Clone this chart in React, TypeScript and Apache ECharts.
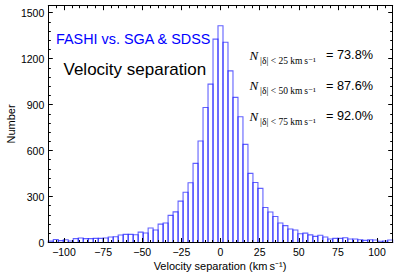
import React, { useEffect, useRef } from "react";
import * as echarts from "echarts";

// Histogram of velocity separation (km/s), 69 equal bins from -110 to 110
const BIN_START = -110;
const BIN_END = 110;
const counts = [
  9, 20, 12, 18, 10, 25, 29, 25, 25, 27, 27, 29, 36, 38, 49, 53, 53, 51, 68, 62,
  95, 82, 120, 127, 177, 200, 270, 328, 390, 516, 662, 881, 1033, 1327, 1414, 1307,
  1120, 947, 820, 640, 451, 391, 353, 228, 199, 170, 127, 110, 88, 82, 57, 61, 50,
  40, 47, 36, 23, 27, 27, 31, 23, 23, 18, 14, 18, 16, 8, 10, 16,
];
const xMajorTicks = [-100, -75, -50, -25, 0, 25, 50, 75, 100];
const xMinorTicks = [
  -110, -105, -100, -95, -90, -85, -80, -75, -70, -65, -60, -55, -50, -45, -40, -35,
  -30, -25, -20, -15, -10, -5, 0, 5, 10, 15, 20, 25, 30, 35, 40, 45, 50, 55, 60, 65,
  70, 75, 80, 85, 90, 95, 100, 105, 110,
];
const yMajorTicks = [0, 300, 600, 900, 1200, 1500];
const yMinorTicks = [
  0, 60, 120, 180, 240, 300, 360, 420, 480, 540, 600, 660, 720, 780, 840, 900, 960,
  1020, 1080, 1140, 1200, 1260, 1320, 1380, 1440, 1500,
];
const titleLines = ["FASHI vs. SGA & SDSS", "Velocity separation"];
const fractions = [
  { limit: "25", value: "73.8%" },
  { limit: "50", value: "87.6%" },
  { limit: "75", value: "92.0%" },
];

const SANS = "'Liberation Sans', Arial, sans-serif";
const SERIF = "'Liberation Serif', 'DejaVu Serif', serif";

function fmt(v: number) {
  return v < 0 ? "\u2212" + Math.abs(v) : String(v);
}

export default function App() {
  const ref = useRef<HTMLDivElement>(null);
  useEffect(() => {
    if (!ref.current) return;
    const chart = echarts.init(ref.current, undefined, { renderer: "svg" });
    const width = (BIN_END - BIN_START) / counts.length;
    const data = counts.map((c, i) => [
      BIN_START + i * width,
      BIN_START + (i + 1) * width,
      c,
    ]);
    const mkLine = (show: boolean) => ({
      show,
      onZero: false,
      lineStyle: { color: "#000", width: 1 },
    });
    const mkX = (position: string, ticks: number[], len: number, main: boolean, line: boolean) => ({
      type: "value",
      position,
      min: BIN_START,
      max: BIN_END,
      z: 5,
      axisLine: mkLine(line),
      axisTick: {
        show: true,
        inside: true,
        length: len,
        customValues: ticks,
        lineStyle: { color: "#000", width: 1 },
      },
      axisLabel: main
        ? {
            show: true,
            customValues: xMajorTicks,
            formatter: (v: number) => fmt(v),
            color: "#000",
            fontFamily: SANS,
            fontSize: 10.5,
            margin: 4,
          }
        : { show: false },
      splitLine: { show: false },
    });
    const mkY = (position: string, ticks: number[], len: number, main: boolean, line: boolean) => ({
      type: "value",
      position,
      min: 0,
      max: 1545,
      z: 5,
      axisLine: mkLine(line),
      axisTick: {
        show: true,
        inside: true,
        length: len,
        customValues: ticks,
        lineStyle: { color: "#000", width: 1 },
      },
      axisLabel: main
        ? {
            show: true,
            customValues: yMajorTicks,
            formatter: (v: number) => String(v),
            color: "#000",
            fontFamily: SANS,
            fontSize: 10.5,
            margin: 4,
          }
        : { show: false },
      splitLine: { show: false },
    });

    const graphics: any[] = [
      {
        type: "text",
        x: 56,
        y: 38.5,
        style: {
          text: titleLines[0],
          fill: "#0000ff",
          font: `14.4px ${SANS}`,
          verticalAlign: "middle",
          align: "left",
        },
      },
      {
        type: "text",
        x: 63.5,
        y: 69.5,
        style: {
          text: titleLines[1],
          fill: "#000",
          font: `17px ${SANS}`,
          verticalAlign: "middle",
          align: "left",
        },
      },
      {
        type: "text",
        x: 220,
        y: 266,
        style: {
          text: "Velocity separation (km\u2009s\u207B\u00B9)",
          fill: "#000",
          font: `11px ${SANS}`,
          verticalAlign: "middle",
          align: "center",
        },
      },
      {
        type: "text",
        x: 11,
        y: 124,
        rotation: Math.PI / 2,
        style: {
          text: "Number",
          fill: "#000",
          font: `11px ${SANS}`,
          verticalAlign: "middle",
          align: "center",
        },
      },
    ];
    fractions.forEach((f, i) => {
      const yc = 55 + i * 30.7;
      graphics.push(
        {
          type: "text",
          x: 249.5,
          y: yc,
          style: {
            text: "N",
            fill: "#000",
            font: `italic 13px ${SERIF}`,
            verticalAlign: "middle",
            align: "left",
          },
        },
        {
          type: "text",
          x: 260,
          y: yc + 5.5,
          style: {
            text: `|\u03B4| < ${f.limit} km\u2009s\u207B\u00B9`,
            fill: "#000",
            font: `9.5px ${SERIF}`,
            verticalAlign: "middle",
            align: "left",
          },
        },
        {
          type: "text",
          x: 373,
          y: yc,
          style: {
            text: `= ${f.value}`,
            fill: "#000",
            font: `12.7px ${SANS}`,
            verticalAlign: "middle",
            align: "right",
          },
        }
      );
    });

    chart.setOption({
      animation: false,
      backgroundColor: "#fff",
      grid: { left: 48.3, right: 6.3, top: 5.7, bottom: 35.5, containLabel: false },
      xAxis: [
        mkX("bottom", xMajorTicks, 4.5, true, true),
        mkX("bottom", xMinorTicks, 2.5, false, false),
        mkX("top", xMajorTicks, 4.5, false, true),
        mkX("top", xMinorTicks, 2.5, false, false),
      ],
      yAxis: [
        mkY("left", yMajorTicks, 4.5, true, true),
        mkY("left", yMinorTicks, 2.5, false, false),
        mkY("right", yMajorTicks, 4.5, false, true),
        mkY("right", yMinorTicks, 2.5, false, false),
      ],
      series: [
        {
          type: "custom",
          xAxisIndex: 0,
          yAxisIndex: 0,
          z: 2,
          data,
          encode: { x: [0, 1], y: 2 },
          renderItem: (params: any, api: any) => {
            const x0 = api.value(0);
            const x1 = api.value(1);
            const v = api.value(2);
            const p0 = api.coord([x0, v]);
            const p1 = api.coord([x1, 0]);
            return {
              type: "rect",
              shape: {
                x: p0[0],
                y: p0[1],
                width: p1[0] - p0[0],
                height: p1[1] - p0[1],
              },
              style: {
                fill: "none",
                stroke: "rgba(0,0,255,0.62)",
                lineWidth: 1.1,
              },
            };
          },
        },
      ],
      graphic: graphics,
    });
    return () => chart.dispose();
  }, []);
  return (
    <div
      ref={ref}
      style={{ position: "fixed", left: 0, top: 0, width: 399, height: 278 }}
    />
  );
}
